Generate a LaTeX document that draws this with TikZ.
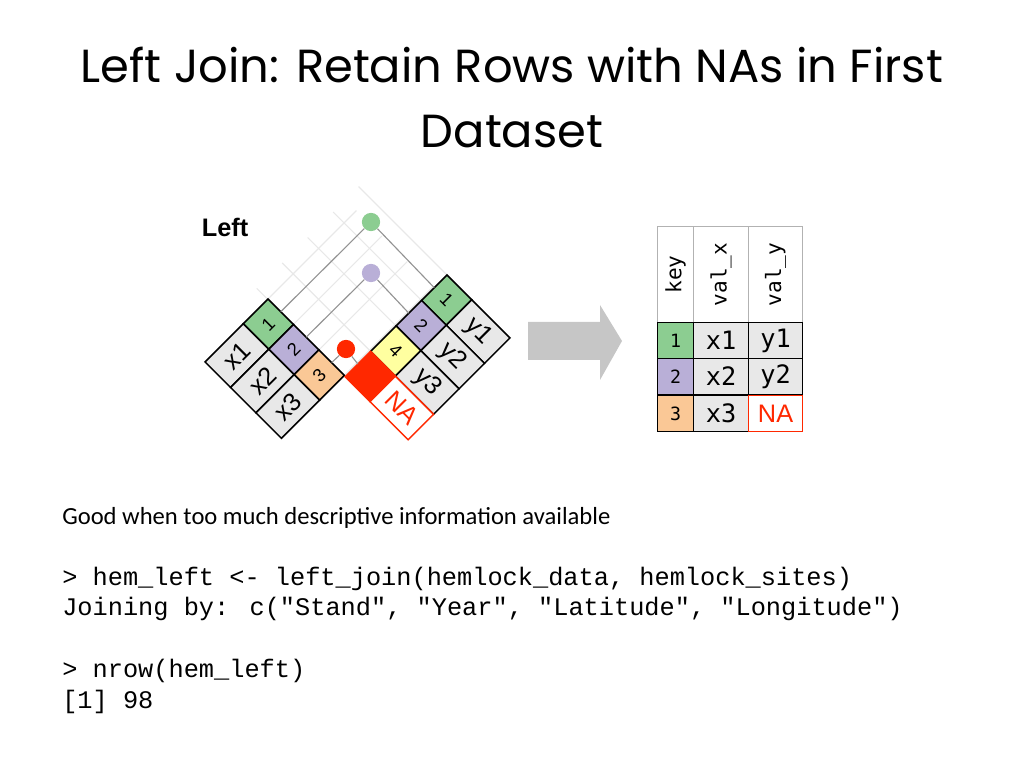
\documentclass[tikz,border=0pt]{standalone}
\usepackage{fontspec}
\setmainfont{Liberation Sans}
\newfontfamily\titlefont{Poppins}
\newfontfamily\bodyfont{Carlito}
\newfontfamily\codefont{Liberation Mono}
\newfontfamily\cellfont{DejaVu Sans Mono}
\definecolor{kgreen}{RGB}{140,205,145}
\definecolor{kpurple}{RGB}{185,175,215}
\definecolor{korange}{RGB}{250,200,150}
\definecolor{kyellow}{RGB}{255,255,160}
\definecolor{kred}{RGB}{255,40,0}
\definecolor{cgrey}{RGB}{232,232,232}
\definecolor{lgrey}{RGB}{232,232,232}
\tikzset{
  cell/.style={draw=black,line width=1.1pt},
  lbl/.style={font=\fontsize{18}{18}\selectfont,inner sep=0pt},
  dot/.style={circle,inner sep=0pt,minimum size=13pt},
  link/.style={draw=gray!85,thick},
  rcell/.style={draw,thick,anchor=south west,minimum width=#1*0.025cm,minimum height=0.9cm,inner sep=0pt,font=\cellfont\fontsize{18}{18}\selectfont},
  code/.style={anchor=base west,inner sep=0pt,font=\codefont\fontsize{18}{18}\selectfont}
}
\begin{document}
\begin{tikzpicture}[x=0.025cm,y=0.025cm]
\useasboundingbox (0,0) rectangle (1024,768);
% title
\node[font=\titlefont\fontsize{33}{33}\selectfont] (title1) at (512,703) {Left Join: Retain Rows with NAs in First};
\node[font=\titlefont\fontsize{33}{33}\selectfont] (title2) at (512,636) {Dataset};
\node[font=\bfseries\fontsize{18}{18}\selectfont] (lefthead) at (225,541) {Left};
% faint guide lines
\begin{scope}[shift={(268,469)},rotate=-45]
  \foreach \r in {0,36,72,108} \draw[lgrey,thick] (\r,0) -- (\r,125);
\end{scope}
\begin{scope}[shift={(447,493)},rotate=45]
  \foreach \r in {0,-36,-72,-108,-144} \draw[lgrey,thick] (\r,0) -- (\r,125);
\end{scope}
% dots
\node[dot,fill=kgreen] (dg) at (371,546) {};
\node[dot,fill=kpurple] (dp) at (371,495) {};
\node[dot,fill=kred] (dr) at (346,419) {};
% left table
\begin{scope}[shift={(268,469)},rotate=-45]
  \foreach \i/\c/\v in {1/kgreen/x1,2/kpurple/x2,3/korange/x3}{
    \filldraw[cell,fill=\c] ({36*(\i-1)},-35) rectangle ({36*\i},0);
    \filldraw[cell,fill=cgrey] ({36*(\i-1)},-89) rectangle ({36*\i},-35);
    \node[lbl,rotate=45,font=\fontsize{13}{13}\selectfont] (lk\i) at ({36*\i-18},-17.5) {\i};
    \node[lbl,rotate=45] (lv\i) at ({36*\i-18},-62) {\v};
    \coordinate (la\i) at ({36*\i-18},0);
  }
\end{scope}
% right table
\begin{scope}[shift={(447,493)},rotate=45]
  \foreach \i/\c/\k/\v in {1/kgreen/1/y1,2/kpurple/2/y2,3/kyellow/4/y3}{
    \filldraw[cell,fill=\c] ({-36*\i},-35) rectangle ({-36*(\i-1)},0);
    \filldraw[cell,fill=cgrey] ({-36*\i},-89) rectangle ({-36*(\i-1)},-35);
    \node[lbl,rotate=-45,font=\fontsize{13}{13}\selectfont] (rk\i) at ({-36*\i+18},-17.5) {\k};
    \node[lbl,rotate=-45] (rv\i) at ({-36*\i+18},-62) {\v};
    \coordinate (ra\i) at ({-36*\i+18},0);
  }
  \filldraw[draw=kred,fill=kred,line width=1.1pt] (-144,-35) rectangle (-108,0);
  \filldraw[draw=kred,fill=white,line width=1.1pt] (-144,-89) rectangle (-108,-35);
  \node[lbl,rotate=-45,text=kred] (rv4) at (-126,-62) {NA};
  \coordinate (ra4) at (-126,0);
\end{scope}
% links
\draw[link] (la1) -- (dg) -- (ra1);
\draw[link] (la2) -- (dp) -- (ra2);
\draw[link] (la3) -- (dr) -- (ra4);
% arrow
\fill[gray!45] (528,446) -- (600,446) -- (600,463) -- (622,427) -- (600,388) -- (600,408) -- (528,408) -- cycle;
% result table
\foreach \n/\px/\w in {hk/657/36,hx/693/55,hy/748/54}
  \node[rcell=\w,draw=gray!60,minimum height=2.4cm] (\n) at (\px,445) {};
\node[rotate=90,font=\cellfont\fontsize{15}{15}\selectfont] (tk) at (hk) {key};
\node[rotate=90,font=\cellfont\fontsize{15}{15}\selectfont] (tx) at (hx) {val\_x};
\node[rotate=90,font=\cellfont\fontsize{15}{15}\selectfont] (ty) at (hy) {val\_y};
\foreach \j/\c/\yy in {1/kgreen/409,2/kpurple/373,3/korange/336}{
  \node[rcell=36,fill=\c,font=\cellfont\fontsize{13}{13}\selectfont] (k\j) at (657,\yy) {\j};
  \node[rcell=55,fill=cgrey] (x\j) at (693,\yy) {x\j};
}
\node[rcell=54,fill=cgrey] (y1) at (748,409) {y1};
\node[rcell=54,fill=cgrey] (y2) at (748,373) {y2};
\node[rcell=54,draw=kred,fill=white,text=kred,font=\fontsize{18}{18}\selectfont] (y3) at (748,336) {NA};
% notes
\node[anchor=base west,inner sep=0pt,font=\bodyfont\fontsize{17.5}{17.5}\selectfont] (note) at (62,243) {Good when too much descriptive information available};
\node[code] (c1) at (62,182) {> hem\_left <- left\_join(hemlock\_data, hemlock\_sites)};
\node[code] (c2) at (62,152) {Joining by: c("Stand", "Year", "Latitude", "Longitude")};
\node[code] (c3) at (62,90) {> nrow(hem\_left)};
\node[code] (c4) at (62,59) {[1] 98};
\end{tikzpicture}
\end{document}
